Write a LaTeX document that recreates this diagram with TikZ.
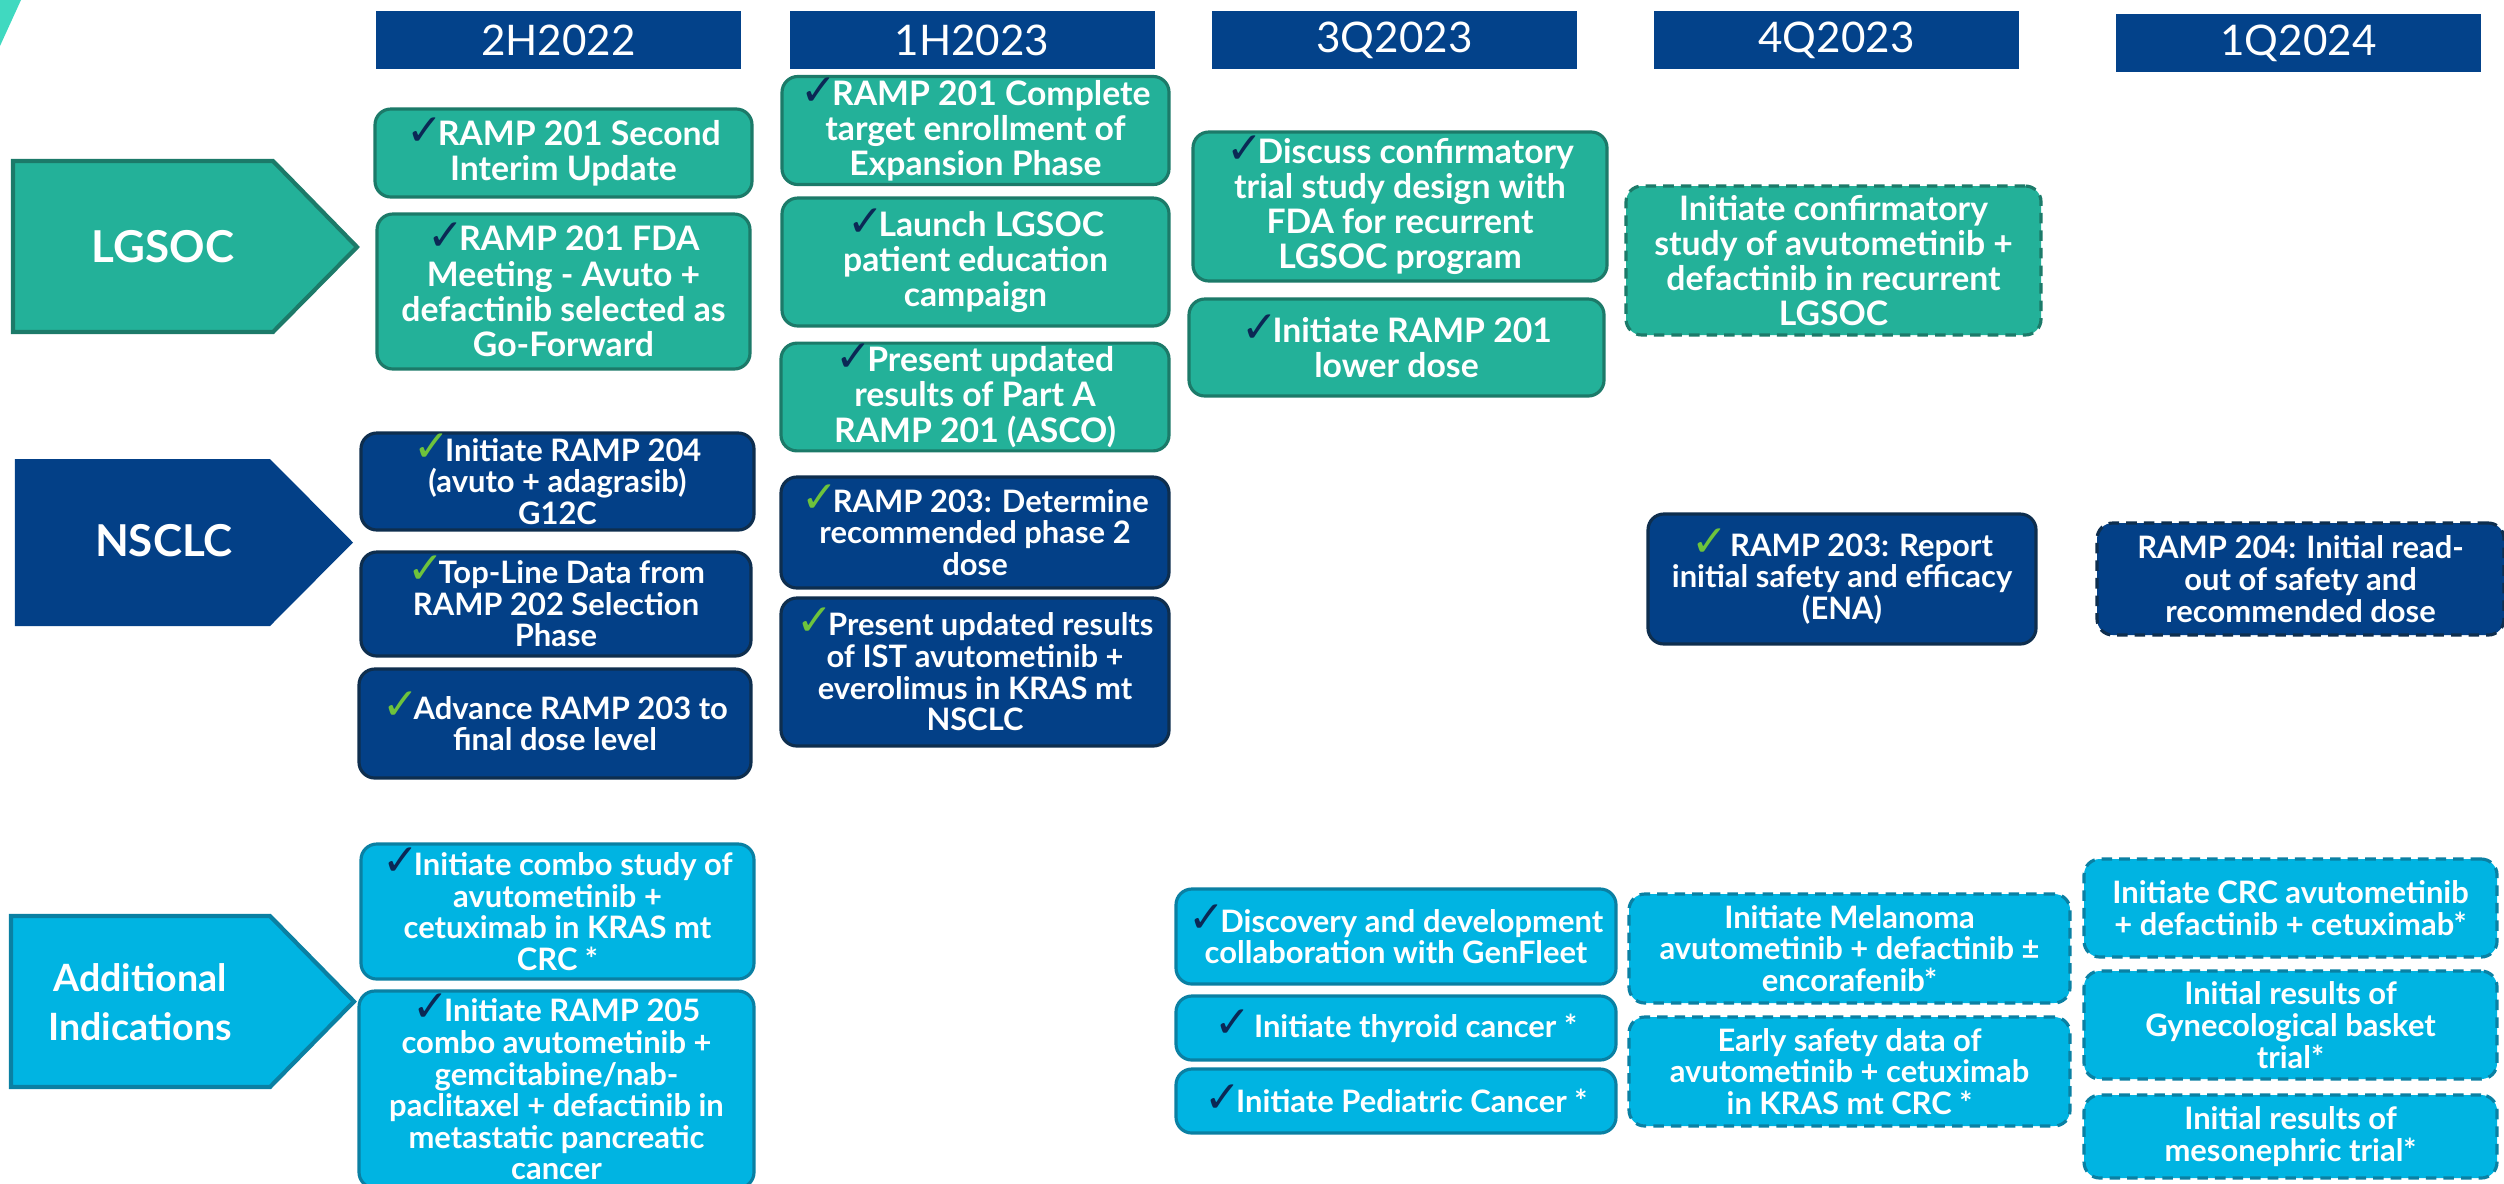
\documentclass[tikz,border=0pt]{standalone}
\usepackage{fontspec}
\setmainfont{Lato}
\newfontfamily\checkfont{DejaVu Sans}
\definecolor{hdrblue}{RGB}{3, 66, 138}
\definecolor{tealfill}{RGB}{35, 177, 153}
\definecolor{tealline}{RGB}{28, 122, 105}
\definecolor{navyfill}{RGB}{3, 64, 135}
\definecolor{navyline}{RGB}{14, 46, 78}
\definecolor{skyfill}{RGB}{0, 180, 226}
\definecolor{skyline}{RGB}{10, 128, 163}
\definecolor{tickdark}{RGB}{11, 40, 85}
\definecolor{tickgreen}{RGB}{110, 195, 60}
\definecolor{cornerteal}{RGB}{64, 217, 192}
\newcommand{\donemark}{\smash{\checkfont\fontsize{12.5}{10}\selectfont\color{tickdark}✓}\kern-1.5pt}
\newcommand{\donegreen}{\smash{\checkfont\fontsize{12.5}{10}\selectfont\color{tickgreen}✓}\kern-1.5pt}
\tikzset{
  period/.style={fill=hdrblue, text=white, font=\fontsize{12}{14}\selectfont, minimum width=3.65cm, minimum height=0.58cm, inner sep=0pt},
  milestone/.style={rounded corners=4.5pt, line width=0.9pt, text=white, align=center, inner sep=1pt, font=\fontsize{8.8}{9}\selectfont\bfseries},
  lgsocbox/.style={milestone, draw=tealline, fill=tealfill, font=\fontsize{9.6}{10}\selectfont\bfseries},
  nsclcbox/.style={milestone, draw=navyline, fill=navyfill},
  addbox/.style={milestone, draw=skyline, fill=skyfill},
  planned/.style={dash pattern=on 3pt off 2pt},
  track/.style={text=white, font=\fontsize{12.5}{14}\selectfont\bfseries, align=center}
}

\begin{document}
\begin{tikzpicture}
  \useasboundingbox (0,0) rectangle (25.04,-11.83);
  \fill[cornerteal] (0,0) -- (0.21,0) -- (0,-0.46) -- cycle;

  % Periods
  \node[period] (h1) at (5.585,-0.40) {2H2022};
  \node[period] (h2) at (9.72,-0.40) {1H2023};
  \node[period] (h3) at (13.945,-0.40) {3Q2023};
  \node[period] (h4) at (18.365,-0.40) {4Q2023};
  \node[period] (h5) at (22.985,-0.43) {1Q2024};

  % Tracks
  \filldraw[fill=tealfill, draw=tealline, line width=1.2pt] (0.13,-1.61) -- (2.73,-1.61) -- (3.57,-2.47) -- (2.73,-3.32) -- (0.13,-3.32) -- cycle;
  \node[track] (lgsoc) at (1.63,-2.47) {LGSOC};
  \fill[navyfill] (0.15,-4.59) -- (2.70,-4.59) -- (3.53,-5.425) -- (2.70,-6.26) -- (0.15,-6.26) -- cycle;
  \node[track] (nsclc) at (1.64,-5.41) {NSCLC};
  \filldraw[fill=skyfill, draw=skyline, line width=1.2pt] (0.11,-9.16) -- (2.70,-9.16) -- (3.54,-10.015) -- (2.70,-10.87) -- (0.11,-10.87) -- cycle;
  \node[track, font=\fontsize{10.7}{13.8}\selectfont\bfseries] (addl) at (1.40,-10.02) {Additional\\Indications};

  % LGSOC
  \node[lgsocbox, minimum width=3.77cm, minimum height=0.88cm] (lg1) at (5.635,-1.53) {\donemark RAMP 201 Second\\Interim Update};
  \node[lgsocbox, minimum width=3.73cm, minimum height=1.55cm] (lg2) at (5.635,-2.915) {\donemark RAMP 201 FDA\\Meeting - Avuto +\\defactinib selected as\\Go-Forward};
  \node[lgsocbox, minimum width=3.87cm, minimum height=1.05cm] (lg3) at (9.755,-1.305) {\donemark RAMP 201 Complete\\target enrollment of\\Expansion Phase};
  \node[lgsocbox, minimum width=3.87cm, minimum height=1.28cm] (lg4) at (9.755,-2.62) {\donemark Launch LGSOC\\patient education\\campaign};
  \node[lgsocbox, minimum width=3.88cm, minimum height=1.04cm] (lg5) at (9.75,-3.97) {\donemark Present updated\\results of Part A\\RAMP 201 (ASCO)};
  \node[lgsocbox, minimum width=4.14cm, minimum height=1.49cm] (lg6) at (14.0,-2.065) {\donemark Discuss confirmatory\\trial study design with\\FDA for recurrent\\LGSOC program};
  \node[lgsocbox, minimum width=4.15cm, minimum height=0.97cm] (lg7) at (13.965,-3.475) {\donemark Initiate RAMP 201\\lower dose};
  \node[lgsocbox, planned, minimum width=4.15cm, minimum height=1.49cm] (lg8) at (18.335,-2.605) {Initiate confirmatory\\study of avutometinib +\\defactinib in recurrent\\LGSOC};

  % NSCLC
  \node[nsclcbox, minimum width=3.93cm, minimum height=0.97cm] (ns1) at (5.575,-4.815) {\donegreen Initiate RAMP 204\\(avuto + adagrasib)\\G12C};
  \node[nsclcbox, minimum width=3.9cm, minimum height=1.04cm] (ns2) at (5.56,-6.04) {\donegreen Top-Line Data from\\RAMP 202 Selection\\Phase};
  \node[nsclcbox, minimum width=3.92cm, minimum height=1.09cm] (ns3) at (5.55,-7.235) {\donegreen Advance RAMP 203 to\\final dose level};
  \node[nsclcbox, minimum width=3.88cm, minimum height=1.11cm] (ns4) at (9.75,-5.325) {\donegreen RAMP 203: Determine\\recommended phase 2\\dose};
  \node[nsclcbox, minimum width=3.88cm, minimum height=1.48cm] (ns5) at (9.75,-6.72) {\donegreen Present updated results\\of IST avutometinib +\\everolimus in KRAS mt\\NSCLC};
  \node[nsclcbox, minimum width=3.88cm, minimum height=1.30cm] (ns6) at (18.42,-5.79) {\donegreen\ RAMP 203: Report\\initial safety and efficacy\\(ENA)};
  \node[nsclcbox, planned, minimum width=4.07cm, minimum height=1.12cm] (ns7) at (23.005,-5.79) {RAMP 204: Initial read-\\out of safety and\\recommended dose};

  % Additional indications
  \node[addbox, minimum width=3.93cm, minimum height=1.35cm] (ad1) at (5.575,-9.115) {\donemark Initiate combo study of\\avutometinib +\\cetuximab in KRAS mt\\CRC *};
  \node[addbox, minimum width=3.95cm, minimum height=1.97cm] (ad2) at (5.565,-10.895) {\donemark Initiate RAMP 205\\combo avutometinib +\\gemcitabine/nab-\\paclitaxel + defactinib in\\metastatic pancreatic\\cancer};
  \node[addbox, minimum width=4.40cm, minimum height=0.95cm] (ad3) at (13.96,-9.365) {\donemark Discovery and development\\collaboration with GenFleet};
  \node[addbox, minimum width=4.40cm, minimum height=0.64cm] (ad4) at (13.96,-10.28) {\donemark\ Initiate thyroid cancer *};
  \node[addbox, minimum width=4.40cm, minimum height=0.64cm] (ad5) at (13.96,-11.01) {\donemark Initiate Pediatric Cancer *};
  \node[addbox, planned, minimum width=4.41cm, minimum height=1.09cm] (ad6) at (18.495,-9.485) {Initiate Melanoma\\avutometinib + defactinib ±\\encorafenib*};
  \node[addbox, planned, minimum width=4.41cm, minimum height=1.09cm] (ad7) at (18.495,-10.715) {Early safety data of\\avutometinib + cetuximab\\in KRAS mt CRC *};
  \node[addbox, planned, minimum width=4.13cm, minimum height=0.98cm] (ad8) at (22.905,-9.08) {Initiate CRC avutometinib\\+ defactinib + cetuximab*};
  \node[addbox, planned, minimum width=4.13cm, minimum height=1.08cm] (ad9) at (22.905,-10.25) {Initial results of\\Gynecological basket\\trial*};
  \node[addbox, planned, minimum width=4.13cm, minimum height=0.83cm] (ad10) at (22.905,-11.365) {Initial results of\\mesonephric trial*};
\end{tikzpicture}
\end{document}
